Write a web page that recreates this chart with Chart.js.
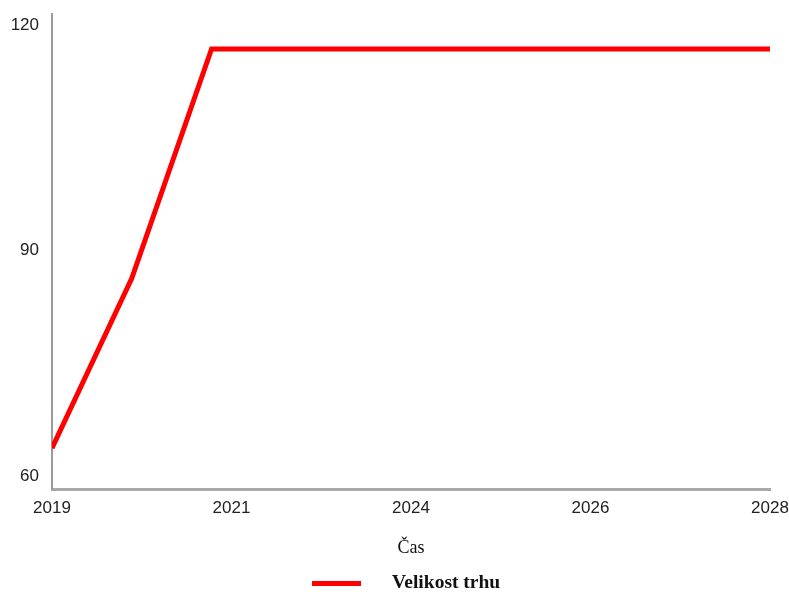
<!DOCTYPE html>
<html>
<head>
<meta charset="utf-8">
<title>Velikost trhu</title>
<script src="https://cdn.jsdelivr.net/npm/chart.js@4/dist/chart.umd.min.js"></script>
<style>
    html, body { margin: 0; padding: 0; background: #fff; }
    #wrap { width: 789px; height: 592px; }
</style>
</head>
<body>
<div id="wrap"><canvas id="marketChart" width="789" height="592"></canvas></div>
<script>
// market size by year
const years = [2019, 2020, 2021, 2022, 2023, 2024, 2025, 2026, 2027, 2028];
const marketSize = [63.7, 86.3, 116.8, 116.8, 116.8, 116.8, 116.8, 116.8, 116.8, 116.8];

// axis labels
const xTickLabels = ['2019', '2021', '2024', '2026', '2028'];
const yTickValues = [60, 90, 120];

const seriesName = 'Velikost trhu';
const xTitle = 'Čas';
const lineColor = '#ff0000';

const xMin = years[0];
const xMax = years[years.length - 1];

// legend drawn under the axis title: long line sample + bold label
const bottomLegend = {
    id: 'bottomLegend',
    afterDraw(chart) {
        const ctx = chart.ctx;
        const ds = chart.data.datasets[0];
        ctx.save();
        ctx.fillStyle = ds.borderColor;
        ctx.fillRect(312, 581, 49, 5);
        ctx.fillStyle = '#111';
        ctx.font = 'bold 19.5px "Liberation Serif", serif';
        ctx.textAlign = 'left';
        ctx.textBaseline = 'middle';
        ctx.fillText(ds.label, 392, 583);
        ctx.restore();
    }
};

const marketChart = new Chart(document.getElementById('marketChart'), {
    type: 'line',
    data: {
        datasets: [{
            label: seriesName,
            data: years.map((y, i) => ({ x: y, y: marketSize[i] })),
            borderColor: lineColor,
            backgroundColor: lineColor,
            borderWidth: 5,
            pointRadius: 0,
            tension: 0,
            borderJoinStyle: 'miter'
        }]
    },
    options: {
        responsive: false,
        animation: false,
        layout: { padding: { top: 14, right: 19, bottom: 33, left: 0 } },
        plugins: {
            legend: { display: false },
            tooltip: { enabled: false }
        },
        scales: {
            x: {
                type: 'linear',
                min: xMin,
                max: xMax,
                grid: { display: false, drawTicks: false },
                border: { display: true, color: '#a8a8a8', width: 3 },
                afterBuildTicks(scale) {
                    const step = (xMax - xMin) / (xTickLabels.length - 1);
                    scale.ticks = xTickLabels.map((_, i) => ({ value: xMin + i * step }));
                },
                afterFit(scale) {
                    scale.height = 70;
                    scale.paddingLeft = 0;
                    scale.paddingRight = 0;
                },
                ticks: {
                    autoSkip: false,
                    maxRotation: 0,
                    padding: 9,
                    color: '#222',
                    font: { family: '"Liberation Sans", Arial, sans-serif', size: 17 },
                    callback: (value, index) => xTickLabels[index]
                },
                title: {
                    display: true,
                    text: xTitle,
                    color: '#111',
                    font: { family: '"Liberation Serif", serif', size: 18 },
                    padding: 0
                }
            },
            y: {
                min: 58.27,
                max: 121.46,
                grid: { display: false, drawTicks: false },
                border: { display: true, color: '#9a9a9a', width: 2 },
                afterBuildTicks(scale) {
                    scale.ticks = yTickValues.map(v => ({ value: v }));
                },
                afterFit(scale) {
                    scale.width = 52;
                    scale.paddingTop = 0;
                    scale.paddingBottom = 0;
                },
                ticks: {
                    padding: 13,
                    color: '#222',
                    font: { family: '"Liberation Sans", Arial, sans-serif', size: 17 },
                    callback: value => String(value)
                }
            }
        }
    },
    plugins: [bottomLegend]
});
</script>
</body>
</html>
